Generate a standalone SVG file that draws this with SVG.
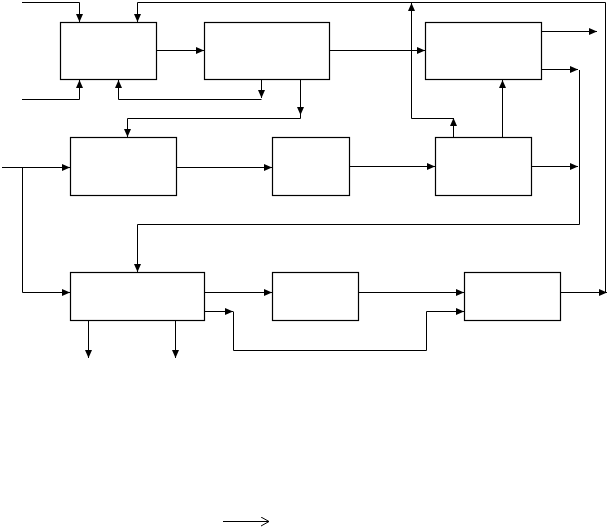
<svg xmlns="http://www.w3.org/2000/svg" width="609" height="529" viewBox="0 0 609 529">
<style>
.box{fill:#fff;stroke:#000;stroke-width:1.2}
.c{fill:none;stroke:#000;stroke-width:1}
</style>
<defs>
<marker id="ah" markerUnits="userSpaceOnUse" markerWidth="9" markerHeight="8" refX="8" refY="3.5" orient="auto"><path d="M0,0 L8,3.5 L0,7 z" fill="#000"/></marker>
<marker id="oa" markerUnits="userSpaceOnUse" markerWidth="10" markerHeight="10" refX="8" refY="4.5" orient="auto"><path d="M0,0 L8,4.5 L0,9" fill="none" stroke="#000" stroke-width="1"/></marker>
</defs>
<rect width="609" height="529" fill="#fff"/>
<g id="nodeA"><rect class="box" x="60.5" y="22.5" width="96" height="57"/></g>
<g id="nodeB"><rect class="box" x="204.5" y="22.5" width="125" height="57"/></g>
<g id="nodeD"><rect class="box" x="425.5" y="22.5" width="116" height="57"/></g>
<g id="nodeC"><rect class="box" x="70.5" y="137.5" width="106" height="58"/></g>
<g id="nodeH"><rect class="box" x="272.5" y="137.5" width="77" height="58"/></g>
<g id="nodeF"><rect class="box" x="435.5" y="137.5" width="96" height="58"/></g>
<g id="nodeE"><rect class="box" x="70.5" y="272.5" width="134" height="48"/></g>
<g id="nodeI"><rect class="box" x="272.5" y="272.5" width="86" height="48"/></g>
<g id="nodeG"><rect class="box" x="464.5" y="272.5" width="96" height="48"/></g>
<g id="connectors">
<path class="c" d="M22,2.5 H79.5 V22" marker-end="url(#ah)"/>
<path class="c" d="M22,99.5 H79.5 V80" marker-end="url(#ah)"/>
<path class="c" d="M261.5,80 V98" marker-end="url(#ah)"/>
<path class="c" d="M261.5,99.5 H118.5 V80" marker-end="url(#ah)"/>
<path class="c" d="M157,50.5 H204" marker-end="url(#ah)"/>
<path class="c" d="M300.5,80 V115" marker-end="url(#ah)"/>
<path class="c" d="M300.5,115 V118.5 H127.5 V137" marker-end="url(#ah)"/>
<path class="c" d="M330,50.5 H425" marker-end="url(#ah)"/>
<path class="c" d="M542,31.5 H597" marker-end="url(#ah)"/>
<path class="c" d="M542,69.5 H578" marker-end="url(#ah)"/>
<path class="c" d="M579.5,70 V224.5 H137.5 V272" marker-end="url(#ah)"/>
<path class="c" d="M453.5,137 V118" marker-end="url(#ah)"/>
<path class="c" d="M453.5,118.5 H411.5 V3" marker-end="url(#ah)"/>
<path class="c" d="M502.5,137 V80" marker-end="url(#ah)"/>
<path class="c" d="M2,167.5 H70" marker-end="url(#ah)"/>
<path class="c" d="M22.5,167.5 V292.5 H70" marker-end="url(#ah)"/>
<path class="c" d="M177,167.5 H272" marker-end="url(#ah)"/>
<path class="c" d="M350,166.5 H435" marker-end="url(#ah)"/>
<path class="c" d="M532,166.5 H578" marker-end="url(#ah)"/>
<path class="c" d="M88.5,321 V358" marker-end="url(#ah)"/>
<path class="c" d="M175.5,321 V358" marker-end="url(#ah)"/>
<path class="c" d="M205,292.5 H272" marker-end="url(#ah)"/>
<path class="c" d="M205,311.5 H233" marker-end="url(#ah)"/>
<path class="c" d="M233.5,311.5 V350.5 H426.5 V311.5 H464" marker-end="url(#ah)"/>
<path class="c" d="M359,292.5 H464" marker-end="url(#ah)"/>
<path class="c" d="M561,292.5 H607" marker-end="url(#ah)"/>
<path class="c" d="M605.5,292 V2.5 H137.5 V22" marker-end="url(#ah)"/>
<path class="c" d="M223,521.5 H269" marker-end="url(#oa)"/>
</g>
</svg>
